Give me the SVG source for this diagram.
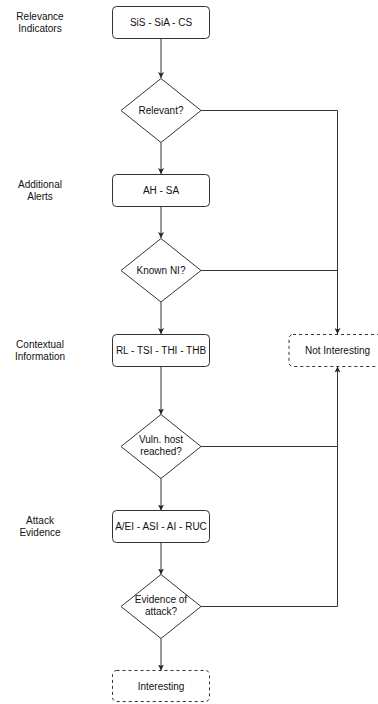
<svg xmlns="http://www.w3.org/2000/svg" width="378" height="704" viewBox="0 0 378 704">
<style>
.n{fill:#fff;stroke:#333;stroke-width:1}
.d{stroke-dasharray:3 3}
.t{font-family:"Liberation Sans",Arial,sans-serif;font-size:10px;fill:#111;text-anchor:middle}
.c{fill:none;stroke:#333;stroke-width:1}
</style>
<defs>
<marker id="a" viewBox="0 0 6 6" refX="6" refY="3" markerWidth="6" markerHeight="6" orient="auto" markerUnits="userSpaceOnUse">
<path d="M0,0 L6,3 L0,6 L1.5,3 Z" fill="#222"/>
</marker>
</defs>
<rect width="378" height="704" fill="#fff"/>
<g id="labels">
<text class="t" x="40" y="19.5">Relevance</text>
<text class="t" x="40" y="31.5">Indicators</text>
<text class="t" x="40" y="187.5">Additional</text>
<text class="t" x="40" y="199.5">Alerts</text>
<text class="t" x="40" y="347.5">Contextual</text>
<text class="t" x="40" y="359.5">Information</text>
<text class="t" x="40" y="524">Attack</text>
<text class="t" x="40" y="536">Evidence</text>
</g>
<g id="connectors">
<path class="c" d="M161,38.5 V78" marker-end="url(#a)"/>
<path class="c" d="M161,142.5 V174" marker-end="url(#a)"/>
<path class="c" d="M161,206.5 V238" marker-end="url(#a)"/>
<path class="c" d="M161,302 V334" marker-end="url(#a)"/>
<path class="c" d="M161,366.5 V414.5" marker-end="url(#a)"/>
<path class="c" d="M161,478 V510.5" marker-end="url(#a)"/>
<path class="c" d="M161,542.5 V574.5" marker-end="url(#a)"/>
<path class="c" d="M161,638.5 V670.5" marker-end="url(#a)"/>
<path class="c" d="M201,110.5 H337.5 V334" marker-end="url(#a)"/>
<path class="c" d="M201,270.5 H337.5"/>
<path class="c" d="M201,446.5 H337.5 V366.5" marker-end="url(#a)"/>
<path class="c" d="M201,606.5 H337.5 V446.5"/>
</g>
<g id="n1">
<rect class="n" x="112.5" y="6.5" width="97" height="32" rx="4"/>
<text class="t" x="161" y="26">SiS - SiA - CS</text>
</g>
<g id="n2">
<path class="n" d="M161,78.5 L201,110.5 L161,142.5 L121,110.5 Z"/>
<text class="t" x="161" y="114">Relevant?</text>
</g>
<g id="n3">
<rect class="n" x="112.5" y="174.5" width="97" height="32" rx="4"/>
<text class="t" x="161" y="194">AH - SA</text>
</g>
<g id="n4">
<path class="n" d="M161,238.5 L201,270.5 L161,302 L121,270.5 Z"/>
<text class="t" x="161" y="274">Known NI?</text>
</g>
<g id="n5">
<rect class="n" x="112.5" y="334.5" width="97" height="32" rx="4"/>
<text class="t" x="161" y="354">RL - TSI - THI - THB</text>
</g>
<g id="n6">
<path class="n" d="M161,414.5 L201,446.5 L161,478.5 L121,446.5 Z"/>
<text class="t" x="161" y="442.5">Vuln. host</text>
<text class="t" x="161" y="454.5">reached?</text>
</g>
<g id="n7">
<rect class="n" x="112.5" y="510.5" width="97" height="32" rx="4"/>
<text class="t" x="161" y="530">A/EI - ASI - AI - RUC</text>
</g>
<g id="n8">
<path class="n" d="M161,574.5 L201,606.5 L161,638.5 L121,606.5 Z"/>
<text class="t" x="161" y="602.5">Evidence of</text>
<text class="t" x="161" y="614.5">attack?</text>
</g>
<g id="n9">
<rect class="n d" x="112.5" y="670.5" width="97" height="31" rx="4"/>
<text class="t" x="161" y="689.5">Interesting</text>
</g>
<g id="n10">
<rect class="n d" x="289" y="334.5" width="97" height="32" rx="4"/>
<text class="t" x="337.5" y="354">Not Interesting</text>
</g>
</svg>
